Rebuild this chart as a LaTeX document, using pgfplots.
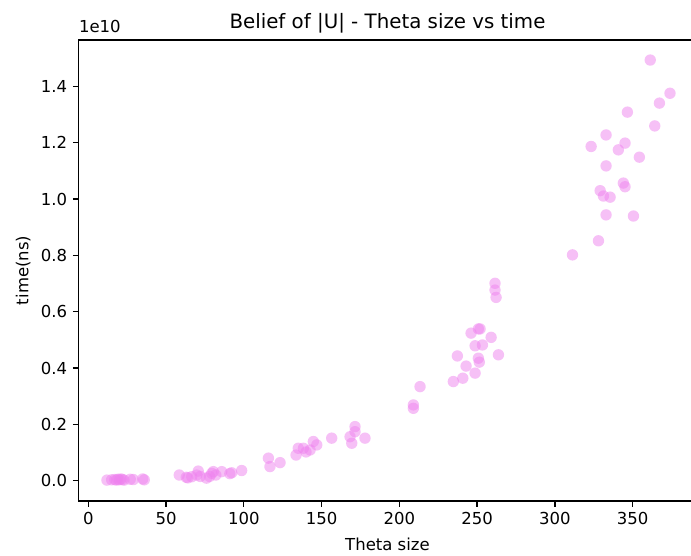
\documentclass[border=0pt]{standalone}
\usepackage{fontspec}
\setmainfont{DejaVu Sans}
\usepackage{pgfplots}
\pgfplotsset{compat=1.18}
\definecolor{mviolet}{RGB}{238,130,238}

\begin{document}
\begin{tikzpicture}
\begin{axis}[
  scale only axis,
  width=374.3pt, height=279.4pt,
  xmin=-6.17, xmax=390.9,
  ymin=-0.072, ymax=1.5655,
  xtick={0,50,...,350},
  ytick={0,0.2,0.4,0.6,0.8,1.0,1.2,1.4},
  yticklabel style={/pgf/number format/fixed,/pgf/number format/fixed zerofill,/pgf/number format/precision=1},
  /pgf/number format/assume math mode=true,
  tick pos=left,
  tick align=outside,
  major tick length=3.5pt,
  every tick/.style={black,line width=0.8pt},
  axis line style={line width=0.8pt},
  tick label style={font=\fontsize{10}{12}\selectfont},
  title={Belief of |U| - Theta size vs time},
  every axis title shift=0pt,
  title style={at={(axis description cs:0.5,1.0258)},anchor=base,inner sep=0pt,font=\fontsize{12}{14.4}\selectfont},
  xlabel={Theta size},
  xlabel style={at={(axis description cs:0.5,-0.1085)},anchor=base,inner sep=0pt,font=\fontsize{10}{12}\selectfont},
  ylabel={time(ns)},
  ylabel style={at={(axis description cs:-0.0815,0.5)},anchor=base,inner sep=0pt,font=\fontsize{10}{12}\selectfont},
]
% run times in units of 1e10 ns
\addplot[only marks, mark=*, mark size=3.45pt, color=mviolet,
  mark options={draw=mviolet, fill=mviolet, draw opacity=0, fill opacity=0.5}]
coordinates {
  (12,0.002) (15,0.003) (17,0.004) (18,0.002) (19,0.005) (20,0.003)
  (21,0.006) (22,0.004) (23,0.002) (27,0.005) (29,0.004) (35,0.006) (36,0.003)
  (58.5,0.020) (63,0.012) (64,0.010) (66.5,0.014) (69.7,0.020) (70.7,0.034)
  (72,0.015) (76,0.009) (78,0.015) (79.4,0.026) (80.4,0.032) (82,0.020)
  (85.8,0.032) (91,0.025) (92.2,0.028) (98.6,0.036)
  (115.8,0.080) (116.8,0.050) (123.3,0.064)
  (133.6,0.091) (135.0,0.115) (138.3,0.115) (140,0.102) (142.6,0.109)
  (144.7,0.139) (146.9,0.127) (156.5,0.151) (168.3,0.156) (169.4,0.133)
  (171.5,0.192) (171.5,0.174) (177.9,0.151)
  (209.0,0.269) (209.0,0.257) (213.3,0.334)
  (234.7,0.352) (240.8,0.364) (248.7,0.382) (242.9,0.407) (237.3,0.443)
  (250.8,0.435) (251.4,0.421) (263.7,0.447) (248.7,0.479) (253.4,0.482)
  (259.0,0.509) (246.1,0.524) (250.8,0.539) (251.9,0.539)
  (261.5,0.701) (261.5,0.677) (262.2,0.651)
  (311.3,0.802) (328.0,0.852) (332.9,0.944) (350.5,0.940) (329.1,1.030)
  (331.2,1.011) (335.5,1.007) (344.0,1.057) (345.1,1.044) (332.9,1.118)
  (354.3,1.149) (340.8,1.175) (345.1,1.199) (323.3,1.187) (332.9,1.228)
  (364.2,1.260) (346.6,1.309) (367.2,1.341) (374.0,1.376) (361.3,1.494)
};
\coordinate (offs) at (axis description cs:0,1.0158);
\coordinate (bbsw) at (axis description cs:-0.1274,-0.1192);
\coordinate (bbne) at (axis description cs:0.99145,1.0866);
\end{axis}
\node[anchor=base west, inner sep=0pt, font=\fontsize{10}{12}\selectfont] at (offs) {1e10};
\pgfresetboundingbox
\path[use as bounding box] (bbsw) rectangle (bbne);
\end{tikzpicture}
\end{document}
